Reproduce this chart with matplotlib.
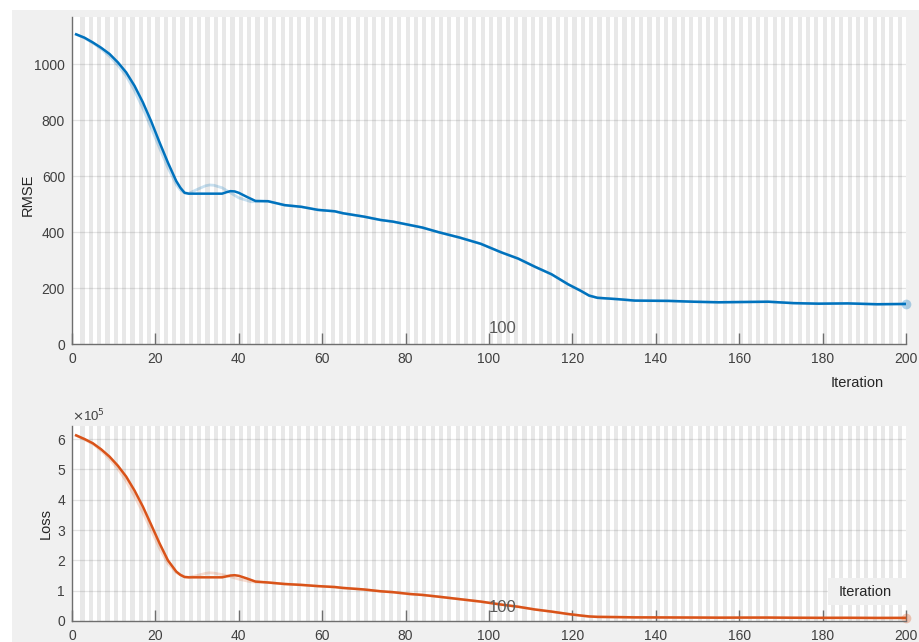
import matplotlib
matplotlib.use("Agg")
import matplotlib.pyplot as plt
from matplotlib.patches import Rectangle
from matplotlib.ticker import FuncFormatter

plt.rcParams["font.family"] = ["Liberation Sans", "DejaVu Sans"]

# ---- training curves (smoothed) ----
iters = [1, 3, 5, 7, 9, 11, 13, 15, 17, 19, 21, 23, 25, 26, 27, 28, 30, 36, 37,
         38, 39, 40, 42, 44, 47, 51, 55, 59, 63, 65, 70, 74, 77, 81, 84, 88, 93,
         98, 103, 107, 111, 115, 119, 122, 124, 126, 131, 135, 143, 149, 155, 161,
         167, 173, 179, 186, 193, 200]
rmse = [1106, 1094, 1077, 1058, 1036, 1006, 970, 922, 863, 795, 720, 648, 582,
        558, 540, 537, 537, 537, 542, 546, 545, 540, 525, 511, 510, 496, 490, 479,
        474, 467, 455, 443, 437, 425, 416, 399, 380, 358, 327, 305, 276, 249, 213,
        190, 173, 165, 160, 155, 154, 151, 149, 150, 151, 146, 144, 145, 142, 143]
loss = [612000, 600000, 586000, 566000, 542000, 512000, 476000, 430000, 377000,
        317000, 256000, 200000, 163000, 152000, 145000, 144000, 144000, 144000,
        147000, 150000, 151000, 149000, 140000, 130000, 127000, 122000, 119000,
        115000, 112000, 109000, 104000, 98000, 95000, 89000, 86000, 80000, 72000,
        64000, 54000, 47000, 38000, 31000, 23000, 18000, 15000, 13600, 12800,
        12000, 11700, 11400, 11000, 11200, 11300, 10700, 10400, 10500, 10100, 10200]

# ---- raw (unsmoothed) curves ----
raw_iters = [1, 3, 5, 7, 9, 11, 13, 15, 17, 19, 21, 23, 25, 26, 27, 28, 30, 32,
             33, 34, 36, 38, 40, 43, 47, 51, 55, 59, 63, 65, 70, 74, 77, 81, 84,
             88, 93, 98, 103, 107, 111, 115, 119, 122, 124, 126, 131, 135, 143,
             149, 155, 161, 167, 173, 179, 186, 193, 200]
raw_rmse = [1106, 1093, 1075, 1054, 1028, 996, 958, 905, 842, 772, 700, 630, 570,
            550, 540, 538, 552, 565, 568, 567, 558, 540, 522, 508, 510, 496, 490,
            479, 474, 467, 455, 443, 437, 425, 416, 399, 380, 358, 327, 305, 276,
            249, 213, 190, 173, 165, 160, 155, 154, 151, 149, 150, 151, 146, 144,
            145, 142, 143]
raw_loss = [612000, 598000, 584000, 562000, 535000, 502000, 462000, 412000,
            358000, 300000, 240000, 190000, 160000, 152000, 146000, 144000, 150000,
            157000, 159000, 158000, 153000, 146000, 138000, 129000, 127000, 122000,
            119000, 115000, 112000, 109000, 104000, 98000, 95000, 89000, 86000,
            80000, 72000, 64000, 54000, 47000, 38000, 31000, 23000, 18000, 15000,
            13600, 12800, 12000, 11700, 11400, 11000, 11200, 11300, 10700, 10400,
            10500, 10100, 10200]

x_ticks = [0, 20, 40, 60, 80, 100, 120, 140, 160, 180, 200]
rmse_ticks = [0, 200, 400, 600, 800, 1000]
loss_ticks = [0, 100000, 200000, 300000, 400000, 500000, 600000]
n_epochs = 200

BLUE = "#0072BD"
ORANGE = "#D95319"
AX_COL = "#6e6e6e"
TXT_COL = "#404040"

W, H = 920, 642
fig = plt.figure(figsize=(W / 100, H / 100), dpi=100, facecolor="white")
fig.patches.append(Rectangle((12 / W, 0), 1, (H - 10) / H, transform=fig.transFigure,
                             facecolor="#f0f0f0", edgecolor="none", zorder=-10))

ax1 = fig.add_axes([72 / W, (H - 344) / H, 834 / W, 327 / H])
ax2 = fig.add_axes([72 / W, (H - 621) / H, 834 / W, 195 / H])


def style(ax, ymax, yticks):
    ax.set_facecolor("white")
    # alternate epochs are shaded
    for k in range(1, n_epochs // 2):
        ax.axvspan(2 * k, 2 * k + 1, color="#e8e8e8", lw=0, zorder=0)
    ax.set_xlim(0, 200)
    ax.set_ylim(0, ymax)
    ax.set_xticks(x_ticks)
    ax.set_yticks(yticks)
    for y in yticks[1:]:
        ax.axhline(y, color="#262626", alpha=0.12, lw=0.9, zorder=1)
    for s in ("top", "right"):
        ax.spines[s].set_visible(False)
    for s in ("left", "bottom"):
        ax.spines[s].set_color(AX_COL)
        ax.spines[s].set_linewidth(1.0)
        ax.spines[s].set_zorder(5)
    ax.tick_params(axis="x", direction="in", length=8, width=1, color=AX_COL,
                   labelsize=10, labelcolor=TXT_COL, pad=6)
    ax.tick_params(axis="y", direction="in", length=0, labelsize=10,
                   labelcolor=TXT_COL, pad=5)


# ---- RMSE panel ----
style(ax1, 1168, rmse_ticks)
ax1.plot(raw_iters, raw_rmse, color=BLUE, alpha=0.22, lw=2.0, zorder=3)
ax1.plot(iters, rmse, color=BLUE, lw=1.8, zorder=4)
ax1.plot(raw_iters[-1], raw_rmse[-1], "o", color=BLUE, alpha=0.3, ms=7, mec="none",
         zorder=4, clip_on=False)
ax1.set_ylabel("RMSE", fontsize=10.5, color="#262626")
ax1.yaxis.set_label_coords(-0.045, 0.455)
ax1.text(857, H - 383, "Iteration", transform=None, fontsize=10.5, color="#262626",
         ha="center", va="center")
ax1.text(100, 57, "100", fontsize=12, color="#595959", ha="left", va="center",
         zorder=6)

# ---- Loss panel ----
style(ax2, 643000, loss_ticks)
ax2.yaxis.set_major_formatter(FuncFormatter(lambda v, p: f"{v / 1e5:g}"))
ax2.plot(raw_iters, raw_loss, color=ORANGE, alpha=0.2, lw=2.0, zorder=3)
ax2.plot(iters, loss, color=ORANGE, lw=1.8, zorder=4)
ax2.plot(raw_iters[-1], raw_loss[-1], "o", color=ORANGE, alpha=0.3, ms=7, mec="none",
         zorder=4, clip_on=False)
ax2.set_ylabel("Loss", fontsize=10.5, color="#262626")
ax2.yaxis.set_label_coords(-0.023, 0.5)
ax2.text(0.0, 1.01, r"$\times$10$^5$", transform=ax2.transAxes, fontsize=9.5,
         color=TXT_COL, ha="left", va="bottom")
ax2.text(100, 46000, "100", fontsize=12, color="#595959", ha="left", va="center",
         zorder=6)
# x label sitting inside the plot area on its own backing box
fig.patches.append(Rectangle((828 / W, (H - 605) / H), 79 / W, 27 / H,
                             transform=fig.transFigure, facecolor="#f0f0f0",
                             edgecolor="none", zorder=6))
fig.text(865 / W, (H - 592) / H, "Iteration", fontsize=10.5, color="#262626",
         ha="center", va="center", zorder=7)

fig.savefig("out.png", dpi=100, facecolor=fig.get_facecolor())
